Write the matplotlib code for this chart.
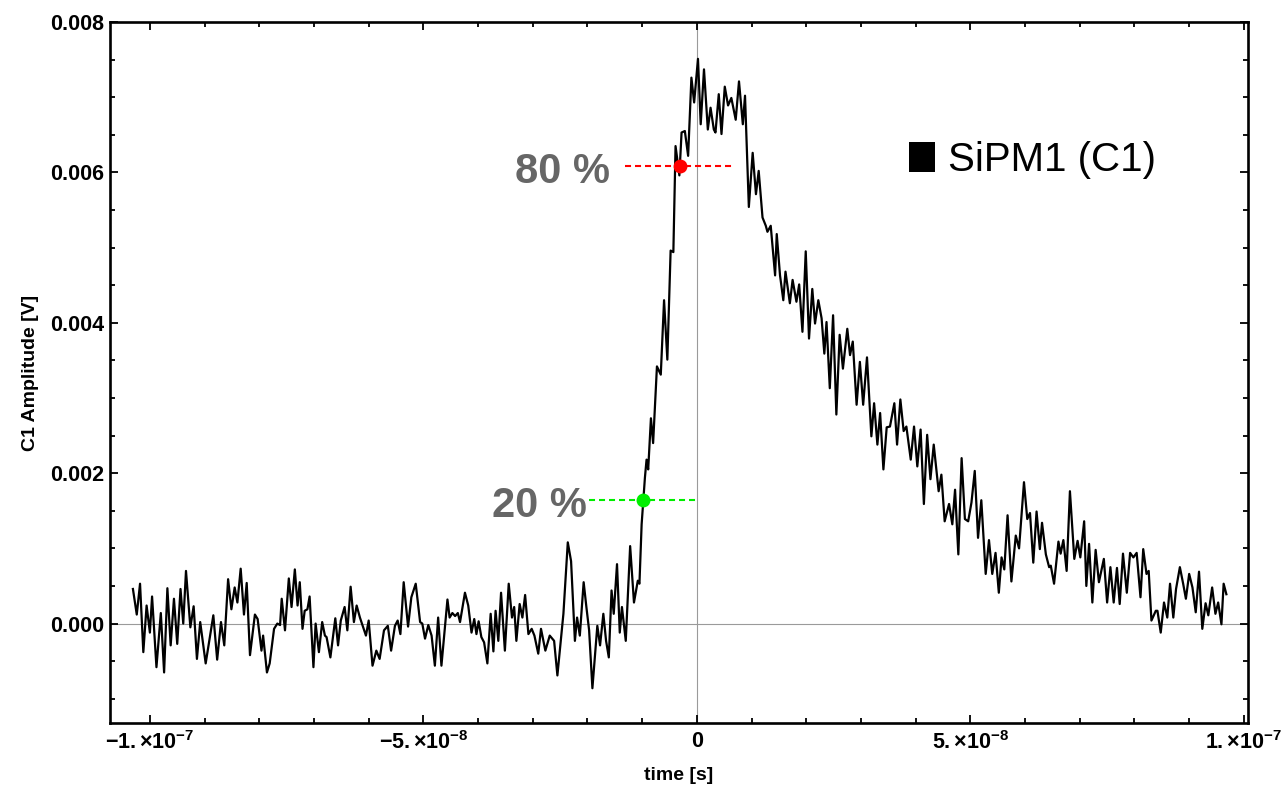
import numpy as np
import matplotlib
matplotlib.use('Agg')
import matplotlib.pyplot as plt
from matplotlib.patches import Patch
from matplotlib.ticker import MultipleLocator

plt.rcParams['font.family'] = ['Liberation Sans', 'DejaVu Sans']
plt.rcParams['mathtext.fontset'] = 'custom'
plt.rcParams['mathtext.rm'] = 'Liberation Sans:bold'
plt.rcParams['mathtext.it'] = 'Liberation Sans:bold'
plt.rcParams['mathtext.bf'] = 'Liberation Sans:bold'

# scope trace, channel C1 (time in ns, amplitude in mV)
time_ns = [
    -103.1, -102.4, -101.8, -101.2, -100.6, -100.0, -99.6, -98.8, -98.0, -97.4,
    -96.8, -96.2, -95.6, -95.0, -94.4, -93.9, -93.4, -92.6, -92.0, -91.4,
    -90.8, -89.8, -88.4, -87.7, -87.0, -86.4, -85.7, -85.1, -84.5, -84.0,
    -83.4, -82.8, -82.3, -81.7, -80.8, -80.3, -79.6, -79.3, -78.6, -78.1,
    -77.3, -76.7, -76.2, -75.9, -75.3, -74.6, -74.1, -73.5, -73.0, -72.6,
    -72.1, -71.7, -71.2, -70.8, -70.1,
    -69.7, -69.1, -68.5, -68.0, -67.7, -67.0, -66.1, -65.6, -65.1, -64.4,
    -63.9, -63.3, -62.7, -62.2, -61.6, -60.5, -60.0, -59.3, -58.6, -58.0,
    -57.2, -56.5, -55.9, -55.2, -54.7, -54.2, -53.6, -52.8, -52.2, -51.4,
    -50.6, -50.2, -49.7, -49.1, -48.5, -47.9, -47.3, -46.7, -45.6, -45.2,
    -44.7, -44.2, -43.7, -43.3, -42.4, -41.8, -41.2, -40.7, -40.3, -39.9,
    -39.4, -38.9, -38.3, -37.7, -37.2,
    -36.8, -36.3, -35.8, -35.1, -34.4, -33.8, -33.4, -33.0, -32.4, -31.9,
    -31.4, -30.8, -30.2, -29.7, -29.0, -28.5, -27.7, -26.9, -26.1, -25.5,
    -24.4, -23.6, -23.0, -22.3, -21.9, -21.4, -20.7, -20.2, -19.7, -19.1,
    -18.2, -17.7, -17.1, -16.6, -16.1, -15.6, -15.2, -14.6, -14.1, -13.7,
    -13.0, -12.2, -11.5, -10.8, -10.5, -10.1, -9.5, -9.2, -8.9,
    -8.4, -8.0, -7.3, -6.6, -6.0, -5.4, -4.8, -4.3, -3.9, -3.2,
    -2.8, -2.2, -1.6, -1.0, -0.5, 0.2, 0.7, 1.3, 2.0, 2.5,
    3.1, 3.4, 4.0, 4.5, 5.1, 5.7, 6.3, 7.1, 7.7, 8.4,
    8.8, 9.5, 10.2, 10.8, 11.3, 12.0, 12.6, 12.9, 13.5, 14.3,
    14.6, 15.2, 15.8, 16.2,
    17.0, 17.5, 18.2, 18.7, 19.3, 19.9, 20.5, 21.1, 21.6, 22.2,
    22.8, 23.3, 23.7, 24.3, 24.9, 25.5, 26.1, 26.7, 27.5, 28.0,
    28.5, 29.2, 29.8, 30.4, 31.1, 31.9, 32.4, 33.0, 33.5, 34.1,
    34.7, 35.3, 36.1, 36.6, 37.2, 37.8, 38.3, 39.1, 39.7, 40.3,
    40.9, 41.5, 42.1, 42.7, 43.3, 44.2, 44.7, 45.3, 46.1, 46.7,
    47.2, 47.8, 48.4, 49.0, 49.6,
    50.2, 50.8, 51.4, 52.0, 52.8, 53.4, 54.0, 54.6, 55.2, 55.7,
    56.2, 56.8, 57.5, 58.3, 58.9, 59.8, 60.4, 60.9, 61.5, 62.1,
    62.7, 63.1, 63.8, 64.4, 64.7, 65.3, 66.1, 66.5, 67.0, 67.6,
    68.2, 69.0, 69.6, 70.1, 70.8, 71.2, 71.7, 72.3, 72.9, 73.5,
    74.4, 75.0, 75.6, 76.2, 76.8, 77.3, 77.9, 78.6, 79.2, 79.8,
    80.4, 81.1, 81.6, 82.2, 82.6, 83.1, 83.9, 84.2, 84.8, 85.4,
    86.0, 86.5, 87.1, 87.6, 88.3, 88.9, 89.4, 90.0, 90.6, 91.2,
    91.8, 92.4, 93.0, 93.5, 94.2, 94.8, 95.3, 95.9, 96.3, 96.8,
]

amp_mV = [
    0.46, 0.12, 0.53, -0.38, 0.24, -0.12, 0.36, -0.58, 0.14, -0.65,
    0.47, -0.29, 0.33, -0.27, 0.46, 0.00, 0.70, -0.05, 0.23, -0.47,
    0.02, -0.53, 0.11, -0.48, 0.02, -0.29, 0.59, 0.19, 0.48, 0.28,
    0.73, 0.12, 0.54, -0.42, 0.12, 0.06, -0.36, -0.16, -0.65, -0.53,
    -0.07, 0.00, -0.02, 0.33, -0.09, 0.60, 0.22, 0.72, 0.24, 0.55,
    -0.07, 0.17, 0.19, 0.36, -0.58,
    0.00, -0.38, 0.02, -0.16, -0.18, -0.45, 0.07, -0.29, 0.04, 0.22,
    -0.09, 0.49, 0.02, 0.24, 0.08, -0.16, 0.04, -0.56, -0.36, -0.47,
    -0.09, -0.03, -0.36, -0.03, 0.04, -0.14, 0.55, -0.04, 0.35, 0.53,
    0.02, 0.00, -0.20, -0.02, -0.16, -0.56, 0.08, -0.56, 0.32, 0.08,
    0.14, 0.10, 0.14, 0.02, 0.41, 0.24, -0.12, 0.06, -0.14, 0.03,
    -0.18, -0.25, -0.53, 0.13, -0.37,
    0.17, -0.23, 0.41, -0.36, 0.53, 0.08, 0.22, -0.23, 0.26, 0.08,
    0.38, -0.14, -0.07, -0.16, -0.40, -0.07, -0.36, -0.16, -0.23, -0.69,
    0.13, 1.08, 0.83, -0.23, 0.08, -0.16, 0.55, 0.22, -0.09, -0.86,
    -0.03, -0.29, 0.13, -0.23, -0.45, 0.44, 0.13, 0.79, -0.12, 0.22,
    -0.23, 1.03, 0.28, 0.57, 0.53, 1.32, 1.94, 2.18, 2.05,
    2.73, 2.40, 3.42, 3.31, 4.30, 3.51, 4.96, 4.94, 6.35, 5.96,
    6.53, 6.55, 6.22, 7.26, 6.93, 7.51, 6.64, 7.37, 6.57, 6.86,
    6.57, 6.53, 7.04, 6.51, 7.14, 6.89, 6.99, 6.70, 7.21, 6.64,
    7.02, 5.54, 6.26, 5.71, 6.02, 5.40, 5.29, 5.21, 5.29, 4.63,
    5.18, 4.63, 4.30, 4.68,
    4.26, 4.57, 4.28, 4.51, 3.88, 4.95, 3.79, 4.45, 3.99, 4.30,
    4.06, 3.59, 4.01, 3.13, 4.10, 2.78, 3.84, 3.39, 3.92, 3.57,
    3.75, 2.91, 3.48, 2.91, 3.54, 2.49, 2.93, 2.38, 2.80, 2.05,
    2.61, 2.62, 2.93, 2.38, 2.98, 2.56, 2.62, 2.18, 2.62, 2.09,
    2.58, 1.59, 2.51, 1.92, 2.38, 1.76, 1.98, 1.36, 1.59, 1.32,
    1.78, 0.92, 2.20, 1.39, 1.36,
    1.61, 2.03, 1.14, 1.64, 0.66, 1.11, 0.66, 0.94, 0.41, 0.88,
    0.72, 1.44, 0.56, 1.17, 1.00, 1.88, 1.39, 1.47, 0.81, 1.49,
    0.99, 1.34, 0.92, 0.75, 0.77, 0.53, 1.09, 0.93, 1.11, 0.70,
    1.76, 0.86, 1.10, 0.88, 1.36, 0.50, 1.06, 0.28, 0.98, 0.55,
    0.86, 0.28, 0.75, 0.28, 0.74, 0.26, 0.93, 0.41, 0.94, 0.88,
    0.94, 0.35, 0.99, 0.66, 0.70, 0.04, 0.17, 0.17, -0.12, 0.28,
    0.08, 0.53, 0.08, 0.46, 0.75, 0.53, 0.33, 0.66, 0.48, 0.15,
    0.69, -0.07, 0.27, 0.11, 0.48, 0.13, 0.28, -0.01, 0.53, 0.39,
]

# 20 % / 80 % rise points
level_names = ['20 %', '80 %']
level_t_ns = [-9.8, -3.1]
level_mV = [1.64, 6.08]
level_colors = ['#00ee00', '#ff0000']
label_right_ns = [-20.1, -15.9]

xtick_vals = [-1e-7, -5e-8, 0, 5e-8, 1e-7]
xtick_labels = [r'$-1.{\times}10^{-7}$', r'$-5.{\times}10^{-8}$', '0',
                r'$5.{\times}10^{-8}$', r'$1.{\times}10^{-7}$']
ytick_vals = [0.000, 0.002, 0.004, 0.006, 0.008]

t = np.array(time_ns) * 1e-9
v = np.array(amp_mV) * 1e-3

fig = plt.figure(figsize=(12.83, 7.91), dpi=100)
ax = fig.add_axes([0.0857, 0.0860, 0.887, 0.8862])

ax.axhline(0, color='#9a9a9a', lw=0.8, zorder=1)
ax.axvline(0, color='#9a9a9a', lw=0.8, zorder=1)
ax.plot(t, v, color='black', lw=1.6, solid_joinstyle='round', zorder=3)

for name, tp, vp, col, tx in zip(level_names, level_t_ns, level_mV, level_colors, label_right_ns):
    ax.plot([(tp - 10) * 1e-9, (tp + 10) * 1e-9], [vp * 1e-3, vp * 1e-3],
            color=col, lw=1.5, ls=(0, (2.9, 1.9)), zorder=4)
    ax.plot(tp * 1e-9, vp * 1e-3, 'o', color=col, ms=10, mec='none', zorder=5)
    ax.text(tx * 1e-9, (vp - 0.22) * 1e-3, name, ha='right', va='baseline',
            fontsize=30, fontweight='bold', color='#666666')

ax.set_xlim(-1.073e-7, 1.0075e-7)
ax.set_ylim(-0.001322, 0.00798)

ax.set_xticks(xtick_vals, labels=xtick_labels)
ax.set_yticks(ytick_vals, labels=['%.3f' % y for y in ytick_vals])
ax.xaxis.set_minor_locator(MultipleLocator(1e-8))
ax.yaxis.set_minor_locator(MultipleLocator(0.0005))
ax.tick_params(which='both', direction='in', top=True, right=True, width=1.3)
ax.tick_params(which='major', length=6, labelsize=15.5)
ax.tick_params(which='minor', length=3.5)
ax.tick_params(axis='y', pad=4)
ax.tick_params(axis='x', pad=6)
for lbl in ax.get_xticklabels() + ax.get_yticklabels():
    lbl.set_fontweight('bold')

for s in ax.spines.values():
    s.set_linewidth(1.9)

ax.set_xlabel('time [s]', fontsize=14, fontweight='bold', labelpad=9)
ax.set_ylabel('C1 Amplitude [V]', fontsize=14, fontweight='bold', labelpad=8)

ax.legend(handles=[Patch(facecolor='black', edgecolor='none', label='SiPM1 (C1)')],
          loc='center left', bbox_to_anchor=(0.702, 0.803), frameon=False,
          fontsize=29, handlelength=0.65, handleheight=0.8, handletextpad=0.33,
          borderpad=0, borderaxespad=0)

fig.savefig('out.png', dpi=100)
